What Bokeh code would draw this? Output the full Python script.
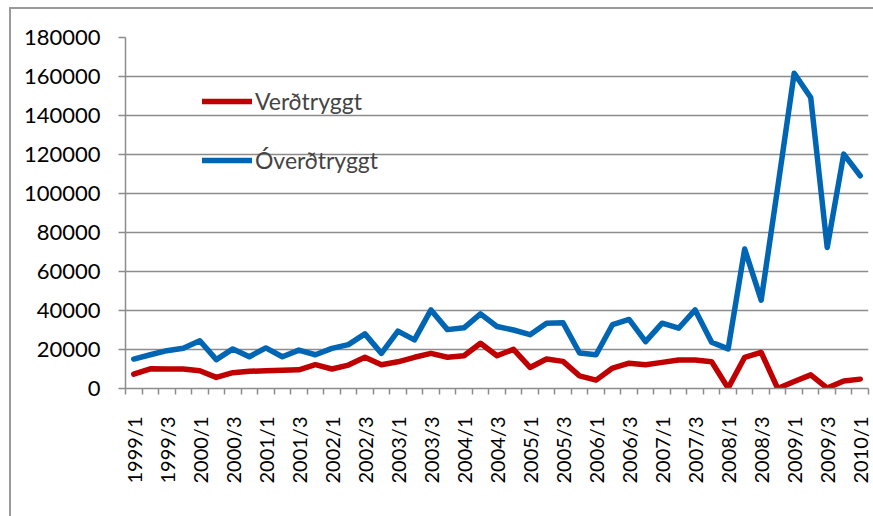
from bokeh.plotting import figure
from bokeh.models import FixedTicker, Legend, LegendItem, ColumnDataSource, InlineStyleSheet
from bokeh.embed import file_html
from bokeh.resources import INLINE
import math

quarters = [f"{y}/{q}" for y in range(1999, 2011) for q in range(1, 5)][:45]

overdtryggt = [15100, 17300, 19400, 20600, 24500, 14800, 20300, 16300, 20800, 16300,
               19700, 17300, 20600, 22500, 28000, 18000, 29400, 24900, 40300, 30200,
               31100, 38300, 31800, 30000, 27600, 33500, 33700, 18200, 17300, 32800,
               35400, 24000, 33500, 30900, 40300, 23700, 20300, 71500, 45300, 103000,
               161700, 149200, 72300, 120200, 109100]

verdtryggt = [7400, 10100, 10000, 10000, 9100, 5700, 8100, 8800, 9100, 9400,
              9600, 12200, 10000, 12000, 16000, 12200, 13700, 16000, 18000, 16000,
              16800, 23200, 16800, 20100, 10800, 15100, 13900, 6500, 4300, 10500,
              13000, 12200, 13400, 14600, 14600, 13700, 200, 16000, 18500, 0,
              3600, 7000, 200, 3900, 4800]

y_ticks = list(range(0, 180001, 20000))

idx = list(range(len(quarters)))
src = ColumnDataSource(dict(x=idx, q=quarters, v=verdtryggt, o=overdtryggt))

FONT = "Lato"
GRAY = "#8c8c8c"
W, H = 871, 514

p = figure(width=W, height=H, output_backend="svg", toolbar_location=None,
           x_range=(-0.5, len(quarters) - 0.5), y_range=(0, 180000),
           min_border_left=125, min_border_right=W - 868, min_border_top=37,
           min_border_bottom=H - 388)
p.outline_line_color = None
p.background_fill_color = "white"
p.border_fill_color = "white"

# outer chart-area border (left and top), drawn as an overlay
p.stylesheets = [InlineStyleSheet(css="""
:host { position: relative; }
:host::after {
  content: "";
  position: absolute;
  left: 9px; top: 7px; right: -20px; bottom: -20px;
  border-left: 2px solid #9a9a9a;
  border-top: 2px solid #9a9a9a;
  pointer-events: none;
  z-index: 100;
}
""")]

r_v = p.line("x", "v", source=src, line_color="#C00000", line_width=5.5,
             line_join="round", line_cap="round")
r_o = p.line("x", "o", source=src, line_color="#0066B3", line_width=5.5,
             line_join="round", line_cap="round")

# y axis
p.yaxis.ticker = FixedTicker(ticks=y_ticks)
p.yaxis.formatter.use_scientific = False
p.yaxis.major_label_text_font = FONT
p.yaxis.major_label_text_font_size = "22px"
p.yaxis.major_label_text_color = "black"
p.yaxis.axis_line_color = GRAY
p.yaxis.axis_line_width = 1.5
p.yaxis.major_tick_line_color = GRAY
p.yaxis.major_tick_line_width = 1.5
p.yaxis.major_tick_out = 7
p.yaxis.major_tick_in = 0
p.yaxis.minor_tick_line_color = None
p.yaxis.major_label_standoff = 18

# x axis
p.xaxis.ticker = FixedTicker(ticks=[i for i in idx if i % 2 == 0],
                             minor_ticks=[i - 0.5 for i in idx] + [len(idx) - 0.5])
p.xaxis.major_label_overrides = {i: quarters[i] for i in idx if i % 2 == 0}
p.xaxis.major_label_orientation = math.pi / 2
p.xaxis.major_label_text_font = FONT
p.xaxis.major_label_text_font_size = "20px"
p.xaxis.major_label_text_color = "black"
p.xaxis.axis_line_color = GRAY
p.xaxis.axis_line_width = 1.5
p.xaxis.major_tick_line_color = None
p.xaxis.major_tick_out = 6
p.xaxis.minor_tick_line_color = GRAY
p.xaxis.minor_tick_line_width = 1.5
p.xaxis.minor_tick_out = 6
p.xaxis.minor_tick_in = 0
p.xaxis.major_label_standoff = 22

p.xgrid.grid_line_color = None
p.ygrid.ticker = FixedTicker(ticks=y_ticks)
p.ygrid.grid_line_color = GRAY
p.ygrid.grid_line_width = 1.5

legend = Legend(items=[LegendItem(label="Verðtryggt", renderers=[r_v]),
                       LegendItem(label="Óverðtryggt", renderers=[r_o])],
                location=(77, 214))
legend.label_text_font = FONT
legend.label_text_font_size = "23px"
legend.glyph_width = 50
legend.glyph_height = 20
legend.label_height = 20
legend.spacing = 31
legend.label_standoff = 3
legend.padding = 0
legend.margin = 0
legend.border_line_color = None
legend.background_fill_alpha = 0
p.add_layout(legend, "center")

open("out.html", "w").write(file_html(p, INLINE))
